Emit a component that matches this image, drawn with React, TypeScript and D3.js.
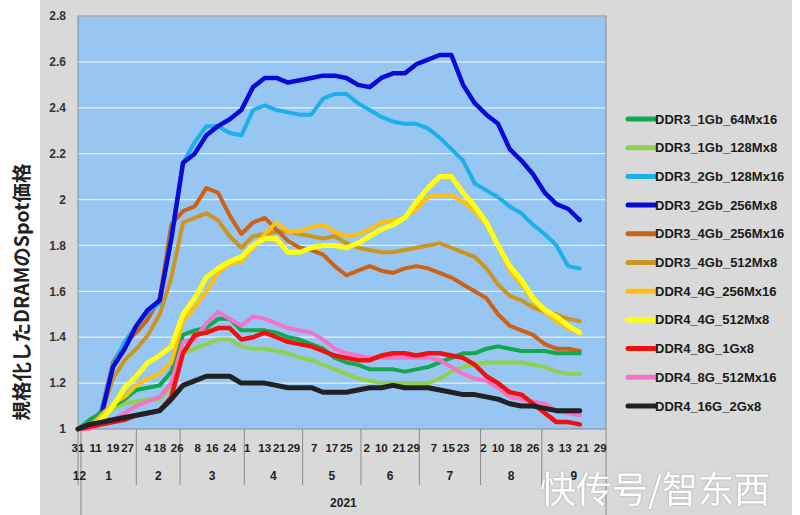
import React from 'react';
import * as d3 from 'd3';

// sampled category positions (trading-day index from 2020-12-31)
const sampleDay = d3.range(0, 173, 4);

// samples per month on the category axis: Dec 2020, Jan..Sep 2021
const monthLabels = ['12', '1', '2', '3', '4', '5', '6', '7', '8', '9'];
const monthDays = [1, 19, 15, 22, 20, 20, 20, 21, 21, 22];

const dayLabels = ['31', '11', '19', '27', '4', '18', '26', '8', '16', '24', '1', '13', '21', '29', '7', '17', '25', '2', '10', '21', '29', '7', '15', '23', '2', '10', '18', '26', '3', '13', '21', '29'];
const dayIndex = [0, 6, 12, 17, 24, 28, 34, 41, 46, 52, 58, 64, 69, 74, 81, 87, 92, 99, 104, 110, 115, 122, 127, 132, 139, 144, 150, 156, 162, 167, 173, 179];

const yTicks = [1, 1.2, 1.4, 1.6, 1.8, 2, 2.2, 2.4, 2.6, 2.8];

const ddr3_1Gb_64Mx16 = [1.00, 1.04, 1.07, 1.10, 1.13, 1.17, 1.18, 1.19, 1.25, 1.41, 1.43, 1.44, 1.48, 1.48, 1.43, 1.43, 1.43, 1.42, 1.40, 1.39, 1.37, 1.35, 1.31, 1.29, 1.28, 1.26, 1.26, 1.26, 1.25, 1.26, 1.27, 1.29, 1.31, 1.33, 1.33, 1.35, 1.36, 1.35, 1.34, 1.34, 1.34, 1.33, 1.33, 1.33];
const ddr3_1Gb_128Mx8 = [1.00, 1.03, 1.06, 1.09, 1.11, 1.12, 1.13, 1.13, 1.18, 1.33, 1.35, 1.37, 1.39, 1.39, 1.36, 1.35, 1.35, 1.34, 1.33, 1.31, 1.30, 1.28, 1.26, 1.24, 1.22, 1.21, 1.20, 1.20, 1.20, 1.20, 1.20, 1.22, 1.25, 1.27, 1.28, 1.29, 1.29, 1.29, 1.29, 1.28, 1.27, 1.25, 1.24, 1.24];
const ddr3_2Gb_128Mx16 = [1.00, 1.01, 1.08, 1.28, 1.38, 1.45, 1.51, 1.55, 1.84, 2.16, 2.25, 2.32, 2.32, 2.29, 2.28, 2.39, 2.41, 2.39, 2.38, 2.37, 2.37, 2.44, 2.46, 2.46, 2.42, 2.39, 2.36, 2.34, 2.33, 2.33, 2.31, 2.27, 2.22, 2.17, 2.07, 2.04, 2.01, 1.97, 1.94, 1.89, 1.85, 1.80, 1.71, 1.70];
const ddr3_2Gb_256Mx8 = [1.00, 1.01, 1.06, 1.27, 1.35, 1.45, 1.52, 1.56, 1.83, 2.16, 2.20, 2.28, 2.32, 2.35, 2.39, 2.49, 2.53, 2.53, 2.51, 2.52, 2.53, 2.54, 2.54, 2.53, 2.50, 2.49, 2.53, 2.55, 2.55, 2.59, 2.61, 2.63, 2.63, 2.50, 2.42, 2.37, 2.33, 2.22, 2.17, 2.11, 2.03, 1.98, 1.96, 1.91];
const ddr3_4Gb_256Mx16 = [1.00, 1.02, 1.08, 1.29, 1.37, 1.42, 1.48, 1.57, 1.89, 1.95, 1.97, 2.05, 2.03, 1.93, 1.85, 1.90, 1.92, 1.87, 1.82, 1.79, 1.78, 1.76, 1.71, 1.67, 1.69, 1.71, 1.69, 1.68, 1.70, 1.71, 1.70, 1.68, 1.66, 1.63, 1.60, 1.57, 1.50, 1.45, 1.43, 1.41, 1.37, 1.35, 1.35, 1.34];
const ddr3_4Gb_512Mx8 = [1.00, 1.01, 1.06, 1.22, 1.30, 1.35, 1.41, 1.50, 1.66, 1.90, 1.92, 1.94, 1.91, 1.84, 1.79, 1.84, 1.85, 1.86, 1.86, 1.85, 1.84, 1.83, 1.84, 1.81, 1.79, 1.78, 1.77, 1.77, 1.78, 1.79, 1.80, 1.81, 1.79, 1.77, 1.75, 1.70, 1.63, 1.58, 1.56, 1.53, 1.51, 1.50, 1.48, 1.47];
const ddr4_4G_256Mx16 = [1.00, 1.01, 1.06, 1.11, 1.14, 1.19, 1.22, 1.24, 1.29, 1.47, 1.53, 1.60, 1.68, 1.72, 1.73, 1.79, 1.85, 1.90, 1.86, 1.86, 1.88, 1.89, 1.86, 1.84, 1.85, 1.87, 1.90, 1.91, 1.92, 1.96, 2.01, 2.02, 2.02, 1.99, 1.95, 1.89, 1.80, 1.69, 1.63, 1.56, 1.51, 1.47, 1.44, 1.42];
const ddr4_4G_512Mx8 = [1.00, 1.01, 1.04, 1.10, 1.18, 1.23, 1.29, 1.32, 1.36, 1.50, 1.57, 1.66, 1.70, 1.73, 1.75, 1.80, 1.83, 1.83, 1.77, 1.77, 1.79, 1.80, 1.80, 1.79, 1.81, 1.84, 1.87, 1.89, 1.92, 1.99, 2.05, 2.10, 2.10, 2.03, 1.97, 1.90, 1.80, 1.71, 1.65, 1.57, 1.52, 1.49, 1.45, 1.42];
const ddr4_8G_1Gx8 = [1.00, 1.01, 1.02, 1.03, 1.04, 1.06, 1.07, 1.08, 1.14, 1.33, 1.41, 1.42, 1.44, 1.44, 1.39, 1.40, 1.42, 1.40, 1.38, 1.37, 1.36, 1.34, 1.32, 1.31, 1.30, 1.30, 1.32, 1.33, 1.33, 1.32, 1.33, 1.33, 1.32, 1.31, 1.28, 1.23, 1.20, 1.16, 1.15, 1.11, 1.07, 1.03, 1.03, 1.02];
const ddr4_8G_512Mx16 = [1.00, 1.00, 1.02, 1.04, 1.07, 1.10, 1.12, 1.14, 1.20, 1.38, 1.39, 1.46, 1.51, 1.48, 1.45, 1.49, 1.48, 1.46, 1.44, 1.43, 1.42, 1.39, 1.35, 1.33, 1.32, 1.31, 1.31, 1.31, 1.31, 1.31, 1.31, 1.30, 1.27, 1.24, 1.22, 1.21, 1.18, 1.14, 1.13, 1.12, 1.11, 1.08, 1.07, 1.06];
const ddr4_16G_2Gx8 = [1.00, 1.02, 1.03, 1.04, 1.05, 1.06, 1.07, 1.08, 1.13, 1.19, 1.21, 1.23, 1.23, 1.23, 1.20, 1.20, 1.20, 1.19, 1.18, 1.18, 1.18, 1.16, 1.16, 1.16, 1.17, 1.18, 1.18, 1.19, 1.18, 1.18, 1.18, 1.17, 1.16, 1.15, 1.15, 1.14, 1.13, 1.11, 1.10, 1.10, 1.09, 1.08, 1.08, 1.08];

const seriesNames = ['DDR3_1Gb_64Mx16', 'DDR3_1Gb_128Mx8', 'DDR3_2Gb_128Mx16', 'DDR3_2Gb_256Mx8', 'DDR3_4Gb_256Mx16', 'DDR3_4Gb_512Mx8', 'DDR4_4G_256Mx16', 'DDR4_4G_512Mx8', 'DDR4_8G_1Gx8', 'DDR4_8G_512Mx16', 'DDR4_16G_2Gx8'];
const seriesValues = [ddr3_1Gb_64Mx16, ddr3_1Gb_128Mx8, ddr3_2Gb_128Mx16, ddr3_2Gb_256Mx8, ddr3_4Gb_256Mx16, ddr3_4Gb_512Mx8, ddr4_4G_256Mx16, ddr4_4G_512Mx8, ddr4_8G_1Gx8, ddr4_8G_512Mx16, ddr4_16G_2Gx8];
const seriesColors = ['#12a84c', '#8fd14f', '#1bb0ea', '#0a0ad8', '#cc6214', '#cc9420', '#ffbf10', '#ffff10', '#f01010', '#f472c8', '#222222'];
const seriesWidths = [4, 4, 4, 4.5, 4, 4, 4, 5, 4.5, 4, 5];
// drawing order: back to front
const drawOrder = [5, 4, 2, 3, 1, 0, 6, 7, 9, 8, 10];

const W = 800;
const H = 515;
const plot = { left: 78, right: 606, top: 16, bottom: 429 };
const font = 'Arial, "Liberation Sans", sans-serif';

export default function App() {
  const totalDays = d3.sum(monthDays);
  const x = d3.scaleLinear().domain([0, totalDays]).range([plot.left, plot.right]);
  const y = d3.scaleLinear().domain([1, 2.8]).range([plot.bottom, plot.top]);

  const line = d3.line<number>()
    .x((_, i) => x(sampleDay[i]))
    .y(d => y(d))
    .curve(d3.curveLinear);

  const monthEdges = [0, ...d3.cumsum(monthDays)];

  return (
    <svg width={W} height={H} style={{ position: 'absolute', left: 0, top: 0 }}>
      <rect x={0} y={0} width={W} height={H} fill="#ffffff" />
      <rect x={40} y={0} width={752} height={H} fill="#d9d9d9" />

      {/* plot area */}
      <rect x={plot.left} y={plot.top} width={plot.right - plot.left} height={plot.bottom - plot.top} fill="#97c6f3" />
      {yTicks.slice(1).map(t => (
        <line key={t} x1={plot.left} x2={plot.right} y1={y(t)} y2={y(t)} stroke="#e4eefa" strokeWidth={1.2} />
      ))}
      <rect x={plot.left} y={plot.top} width={plot.right - plot.left} height={plot.bottom - plot.top} fill="none" stroke="#8a8a8a" strokeWidth={1} />

      {/* y labels */}
      {yTicks.map(t => (
        <text key={t} x={66} y={y(t)} dy="0.35em" textAnchor="end" fontFamily={font} fontWeight="bold" fontSize={12} fill="#333">
          {d3.format('')(t)}
        </text>
      ))}
      <text
        transform={`translate(29,${292}) rotate(-90)`}
        textAnchor="middle"
        fontFamily='"Noto Sans CJK JP", "Noto Sans", sans-serif'
        fontWeight="bold"
        fontSize={19.5}
        fill="#222"
      >
        規格化したDRAMのSpot価格
      </text>

      {/* category axis */}
      {monthEdges.map((e, i) => {
        const full = i === 1 || i === monthEdges.length - 1;
        return (
          <line key={i} x1={x(e)} x2={x(e)} y1={plot.bottom} y2={full ? H : 485} stroke="#8a8a8a" strokeWidth={1} />
        );
      })}
      {dayLabels.map((d, i) => (
        <text key={i} x={x(dayIndex[i])} y={448} dy="0.35em" textAnchor="middle" fontFamily={font} fontWeight="bold" fontSize={11.5} fill="#222">
          {d}
        </text>
      ))}
      {monthLabels.map((m, i) => (
        <text key={m} x={(x(monthEdges[i]) + x(monthEdges[i + 1])) / 2} y={476} dy="0.35em" textAnchor="middle" fontFamily={font} fontWeight="bold" fontSize={12} fill="#222">
          {m}
        </text>
      ))}
      <text x={(x(monthEdges[1]) + x(totalDays)) / 2} y={503} dy="0.35em" textAnchor="middle" fontFamily={font} fontWeight="bold" fontSize={12} fill="#222">
        2021
      </text>

      {/* series */}
      <g>
        {drawOrder.map(s => (
          <path
            key={seriesNames[s]}
            d={line(seriesValues[s]) ?? ''}
            fill="none"
            stroke={seriesColors[s]}
            strokeWidth={seriesWidths[s]}
            strokeLinejoin="round"
            strokeLinecap="round"
          />
        ))}
      </g>

      {/* legend */}
      {seriesNames.map((n, i) => {
        const ly = 119 + i * 28.7;
        return (
          <g key={n}>
            <line x1={628} x2={655} y1={ly} y2={ly} stroke={seriesColors[i]} strokeWidth={5} strokeLinecap="round" />
            <text x={655} y={ly} dy="0.35em" fontFamily={font} fontWeight="bold" fontSize={13} fill="#1a1a1a">
              {n}
            </text>
          </g>
        );
      })}

      {/* watermark */}
      <text x={540} y={503} fontFamily='"Noto Sans CJK SC", sans-serif' fontSize={36} fill="#ffffff" opacity={0.95} style={{ filter: 'drop-shadow(0 0 1px rgba(0,0,0,0.25))' }}>
        快传号/智东西
      </text>
    </svg>
  );
}
